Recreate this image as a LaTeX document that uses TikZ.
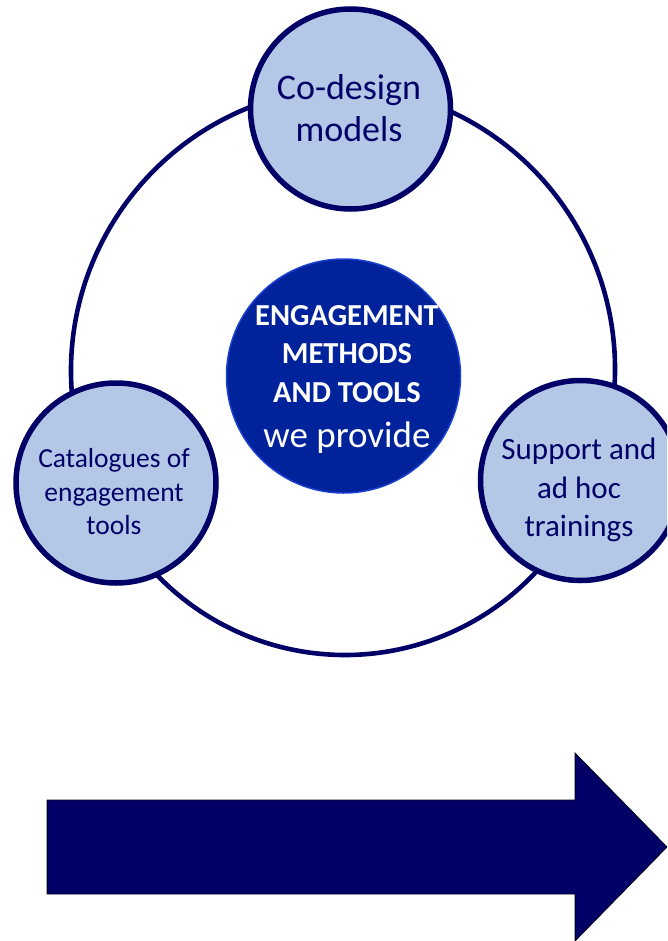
\documentclass[tikz,border=0pt]{standalone}
\usepackage{fontspec}
\setmainfont{Carlito}
\definecolor{navyc}{HTML}{000066}
\definecolor{lightc}{HTML}{B4C7E7}
\definecolor{corefill}{HTML}{00239C}
\definecolor{coreline}{HTML}{1A40D0}
\tikzset{
  ring/.style={draw=navyc, line width=4.6pt},
  petal/.style={circle, draw=navyc, line width=5.5pt, fill=lightc, minimum size=200pt, inner sep=0pt},
  core/.style={circle, draw=coreline, line width=1.5pt, fill=corefill, minimum size=234pt, inner sep=0pt},
  petaltext/.style={text=navyc, align=center, inner sep=0pt},
  coretext/.style={text=white, align=center, inner sep=0pt},
  bigarrow/.style={fill=navyc, draw=black!80!navyc, line width=0.8pt}
}
\begin{document}
\begin{tikzpicture}[x=1pt,y=-1pt]
\useasboundingbox (0,0) rectangle (667,941);
\clip (0,0) rectangle (667,941);
% ring arcs
\draw[ring] (355,371) ++(174:284) arc[start angle=174, end angle=252, radius=284];
\draw[ring] (331,369) ++(-68:284) arc[start angle=-68, end angle=8, radius=284];
\draw[ring] (345,394) ++(40:261) arc[start angle=40, end angle=140, radius=261];
% circles
\node[petal] (top) at (350.5,109) {};
\node[petal] (left) at (116,483) {};
\node[petal] (right) at (580.5,480.5) {};
\node[core] (center) at (343.5,376) {};
% texts
\node[petaltext, font=\fontsize{36}{42}\selectfont] (toptext) at (349,108.5) {Co-design\\models};
\node[petaltext, font=\fontsize{27.5}{33.5}\selectfont] (lefttext) at (114,492) {Catalogues of\\engagement\\tools};
\node[petaltext, font=\fontsize{31}{38.5}\selectfont] (righttext) at (579,490) {Support and\\ad hoc\\trainings};
\node[coretext, font=\fontsize{30.5}{38.5}\selectfont] (centertext) at (347,379)
  {\bfseries ENGAGEMENT\\\bfseries METHODS\\\bfseries AND TOOLS\\[6.5pt]\fontsize{37}{44}\selectfont we provide};
% arrow
\draw[bigarrow] (47,800) -- (575,800) -- (575,753) -- (667,847) -- (575,941) -- (575,894) -- (47,894) -- cycle;
\end{tikzpicture}
\end{document}
